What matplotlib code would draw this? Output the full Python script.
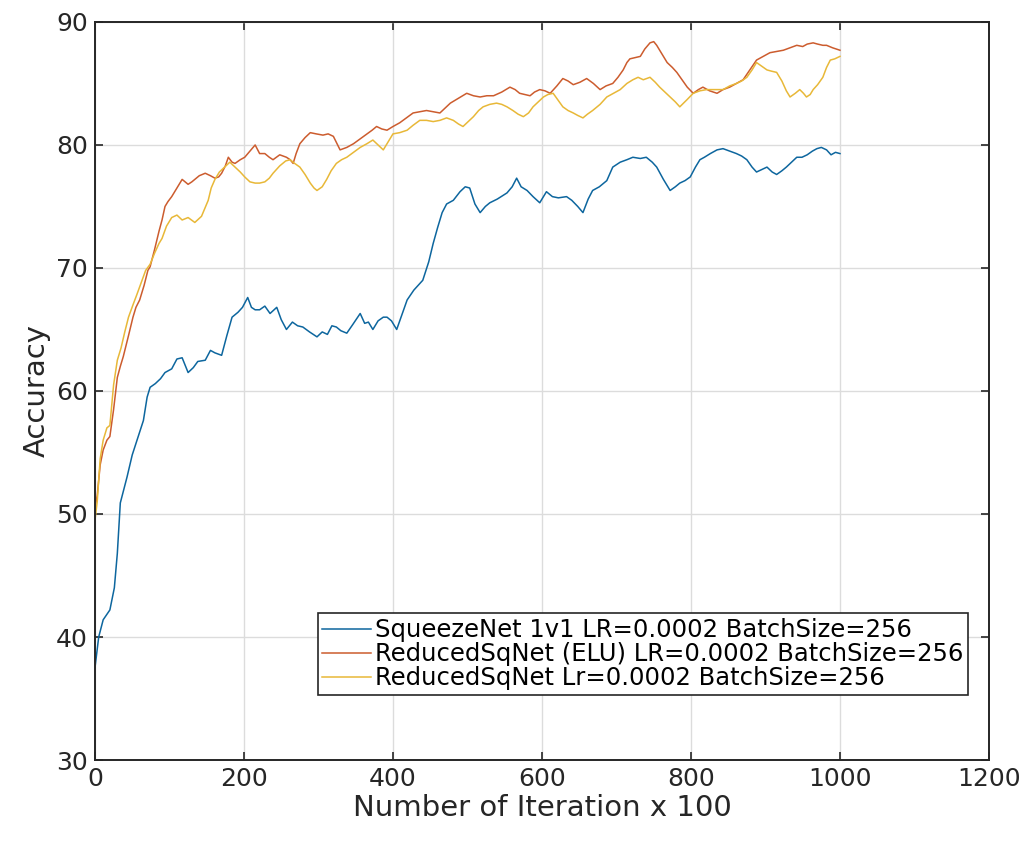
import numpy as np
import matplotlib
matplotlib.use('Agg')
import matplotlib.pyplot as plt

plt.rcParams['font.family'] = ['DejaVu Sans']

# accuracy curves, x in units of 100 iterations
squeeze_x = [0, 5, 11, 20, 26, 30, 34, 43, 50, 58, 65, 70, 74, 81, 88, 94, 103, 110, 117, 125,
             132, 138, 148, 155, 161, 170, 177, 184, 192, 198, 205, 210, 215, 221, 228, 235, 244, 250,
             257, 265, 272, 279, 288, 298, 305, 312, 318, 324, 330, 338, 346, 356, 362, 367, 373, 380,
             387, 392, 398, 405, 412, 419, 428, 440, 448, 454, 460, 466, 472, 481, 490, 497, 503, 510,
             517, 524, 530, 540, 553, 560, 566, 572, 580, 588, 597, 606, 614, 622, 633, 640, 648, 655,
             662, 668, 677, 687, 695, 705, 714, 722, 732, 740, 748, 754, 763, 772, 779, 785, 792, 799,
             806, 812, 818, 826, 835, 843, 852, 861, 868, 875, 882, 888, 895, 902, 909, 915, 922, 928,
             935, 942, 949, 956, 963, 969, 975, 982, 988, 994, 1000]
squeeze_acc = [37.5, 40.0, 41.4, 42.2, 44.0, 46.8, 50.9, 53.0, 54.8, 56.3, 57.6, 59.5, 60.3, 60.6,
               61.0, 61.5, 61.8, 62.6, 62.7, 61.5, 61.9, 62.4, 62.5, 63.3, 63.1, 62.9, 64.5, 66.0,
               66.4, 66.8, 67.6, 66.8, 66.6, 66.6, 66.9, 66.3, 66.8, 65.8, 65.0, 65.6, 65.3, 65.2,
               64.8, 64.4, 64.8, 64.6, 65.3, 65.2, 64.9, 64.7, 65.4, 66.3, 65.5, 65.6, 65.0, 65.7,
               66.0, 66.0, 65.7, 65.0, 66.2, 67.4, 68.2, 69.0, 70.5, 72.0, 73.3, 74.5, 75.2, 75.5,
               76.2, 76.6, 76.5, 75.2, 74.5, 75.0, 75.3, 75.6, 76.1, 76.6, 77.3, 76.6, 76.3, 75.8,
               75.3, 76.2, 75.8, 75.7, 75.8, 75.5, 75.0, 74.5, 75.6, 76.3, 76.6, 77.1, 78.2, 78.6,
               78.8, 79.0, 78.9, 79.0, 78.6, 78.2, 77.2, 76.3, 76.6, 76.9, 77.1, 77.4, 78.2, 78.8,
               79.0, 79.3, 79.6, 79.7, 79.5, 79.3, 79.1, 78.8, 78.2, 77.8, 78.0, 78.2, 77.8, 77.6,
               77.9, 78.2, 78.6, 79.0, 79.0, 79.2, 79.5, 79.7, 79.8, 79.6, 79.2, 79.4, 79.3]

elu_x = [0, 3, 7, 11, 16, 20, 25, 30, 34, 38, 45, 51, 55, 60, 66, 71, 74, 80, 86, 90, 94, 98, 103,
         110, 117, 125, 130, 134, 140, 148, 155, 161, 166, 170, 175, 179, 184, 188, 195, 201, 208,
         215, 221, 228, 234, 239, 248, 257, 262, 266, 270, 275, 282, 289, 297, 306, 313, 320, 325,
         329, 338, 347, 356, 365, 372, 378, 385, 392, 400, 409, 418, 427, 436, 445, 454, 463, 470,
         477, 488, 499, 508, 517, 526, 535, 546, 557, 564, 570, 577, 584, 590, 597, 604, 611, 620,
         628, 635, 642, 651, 660, 669, 678, 686, 695, 702, 709, 714, 718, 725, 732, 738, 745, 750,
         754, 761, 768, 775, 781, 788, 795, 803, 810, 816, 825, 835, 843, 852, 861, 870, 879, 888,
         897, 906, 915, 924, 933, 942, 950, 956, 964, 970, 977, 982, 990, 1000]
elu_acc = [50.5, 51.5, 54.0, 55.2, 56.0, 56.3, 58.5, 61.1, 62.0, 62.8, 64.5, 66.0, 66.8, 67.4,
           68.6, 69.8, 70.1, 71.5, 73.0, 73.9, 75.0, 75.4, 75.8, 76.5, 77.2, 76.8, 77.0, 77.2,
           77.5, 77.7, 77.5, 77.3, 77.4, 77.7, 78.3, 79.0, 78.6, 78.5, 78.8, 79.0, 79.5, 80.0,
           79.3, 79.3, 79.0, 78.8, 79.2, 79.0, 78.8, 78.5, 79.3, 80.1, 80.6, 81.0, 80.9, 80.8,
           80.9, 80.7, 80.1, 79.6, 79.8, 80.1, 80.5, 80.9, 81.2, 81.5, 81.3, 81.2, 81.5, 81.8,
           82.2, 82.6, 82.7, 82.8, 82.7, 82.6, 83.0, 83.4, 83.8, 84.2, 84.0, 83.9, 84.0, 84.0,
           84.3, 84.7, 84.5, 84.2, 84.1, 84.0, 84.3, 84.5, 84.4, 84.2, 84.8, 85.4, 85.2, 84.9,
           85.1, 85.4, 85.0, 84.5, 84.8, 85.0, 85.5, 86.1, 86.7, 87.0, 87.1, 87.2, 87.8, 88.3,
           88.4, 88.1, 87.4, 86.7, 86.3, 85.9, 85.3, 84.7, 84.2, 84.5, 84.7, 84.4, 84.2, 84.5,
           84.7, 85.0, 85.3, 86.1, 86.9, 87.2, 87.5, 87.6, 87.7, 87.9, 88.1, 88.0, 88.2, 88.3,
           88.2, 88.1, 88.1, 87.9, 87.7]

reduced_x = [0, 3, 7, 11, 16, 20, 25, 30, 35, 40, 45, 51, 56, 62, 68, 74, 80, 86, 90, 96, 103,
             110, 117, 125, 134, 143, 152, 156, 161, 167, 174, 181, 188, 195, 201, 208, 215, 221,
             228, 234, 239, 248, 256, 262, 268, 275, 282, 289, 294, 298, 305, 311, 317, 324, 331,
             338, 347, 356, 365, 373, 380, 387, 394, 400, 409, 419, 427, 436, 445, 454, 463, 472,
             481, 488, 494, 501, 508, 515, 521, 530, 539, 546, 553, 561, 568, 575, 582, 588, 595,
             602, 608, 615, 622, 628, 635, 642, 648, 655, 661, 668, 678, 687, 696, 705, 714, 722,
             729, 736, 745, 752, 758, 765, 772, 779, 785, 790, 795, 803, 812, 821, 832, 843, 852,
             861, 868, 875, 882, 888, 895, 902, 908, 915, 922, 928, 933, 940, 946, 951, 955, 960,
             964, 970, 977, 982, 987, 993, 1000]
reduced_acc = [49.5, 51.0, 54.5, 56.0, 57.0, 57.2, 60.5, 62.5, 63.5, 64.8, 66.0, 67.0, 67.8,
               68.8, 69.8, 70.3, 71.2, 72.0, 72.4, 73.4, 74.1, 74.3, 73.9, 74.1, 73.7, 74.2,
               75.5, 76.5, 77.2, 77.8, 78.2, 78.6, 78.2, 77.8, 77.4, 77.0, 76.9, 76.9, 77.0,
               77.3, 77.7, 78.3, 78.7, 78.8, 78.5, 78.2, 77.6, 76.9, 76.5, 76.3, 76.6, 77.2,
               77.9, 78.5, 78.8, 79.0, 79.4, 79.8, 80.1, 80.4, 80.0, 79.6, 80.3, 80.9, 81.0,
               81.2, 81.6, 82.0, 82.0, 81.9, 82.0, 82.2, 82.0, 81.7, 81.5, 81.9, 82.3, 82.8,
               83.1, 83.3, 83.4, 83.3, 83.1, 82.8, 82.5, 82.3, 82.6, 83.1, 83.5, 83.9, 84.1,
               84.2, 83.6, 83.1, 82.8, 82.6, 82.4, 82.2, 82.5, 82.8, 83.3, 83.9, 84.2, 84.5,
               85.0, 85.3, 85.5, 85.3, 85.5, 85.1, 84.7, 84.3, 83.9, 83.5, 83.1, 83.4, 83.7,
               84.2, 84.4, 84.5, 84.5, 84.5, 84.8, 85.0, 85.2, 85.5, 86.1, 86.7, 86.4, 86.1,
               86.0, 85.9, 85.2, 84.4, 83.9, 84.2, 84.5, 84.2, 83.9, 84.1, 84.5, 84.9, 85.5,
               86.3, 86.9, 87.0, 87.2]

labels = ['SqueezeNet 1v1 LR=0.0002 BatchSize=256',
          'ReducedSqNet (ELU) LR=0.0002 BatchSize=256',
          'ReducedSqNet Lr=0.0002 BatchSize=256']
colors = [(0.05, 0.40, 0.62), (0.80, 0.36, 0.18), (0.91, 0.72, 0.22)]

fig = plt.figure(figsize=(10.29, 8.44), dpi=100)
ax = fig.add_axes([0.0923, 0.0995, 0.8688, 0.8745])

series = [(squeeze_x, squeeze_acc), (elu_x, elu_acc), (reduced_x, reduced_acc)]
for (xs, ys), lab, c in zip(series, labels, colors):
    ax.plot(xs, ys, color=c, lw=1.1, label=lab)

ax.set_xlim(0, 1200)
ax.set_ylim(30, 90)
ax.set_xticks(np.arange(0, 1201, 200))
ax.set_yticks(np.arange(30, 91, 10))
ax.grid(True, color='#dcdcdc', lw=1.0)
ax.set_axisbelow(True)
ax.tick_params(direction='in', top=True, right=True, length=6, width=1.2,
               labelsize=18, colors='#262626', pad=5)
for s in ax.spines.values():
    s.set_linewidth(1.4)
    s.set_color('#262626')

ax.set_xlabel('Number of Iteration x 100', fontsize=21, color='#262626', labelpad=2)
ax.set_ylabel('Accuracy', fontsize=21, color='#262626', labelpad=4)

leg = ax.legend(loc='lower right', bbox_to_anchor=(0.9765, 0.088), fontsize=17.5,
                frameon=True, fancybox=False, framealpha=1, edgecolor='#262626',
                handlelength=2.0, handletextpad=0.15, borderpad=0.2, labelspacing=0.0,
                borderaxespad=0)
leg.get_frame().set_linewidth(1.2)

fig.savefig('out.png', dpi=100)
